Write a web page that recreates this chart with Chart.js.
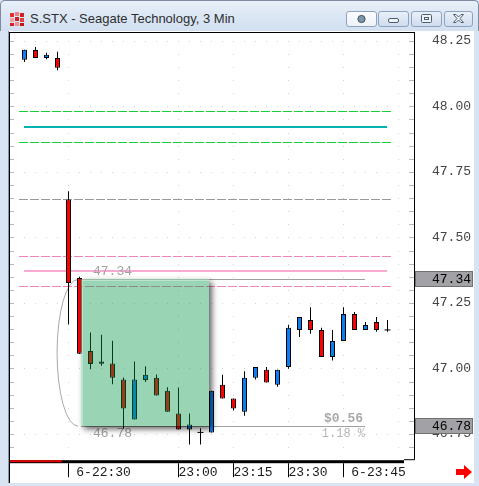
<!DOCTYPE html>
<html>
<head>
<meta charset="utf-8">
<script src="https://cdn.jsdelivr.net/npm/chart.js@4/dist/chart.umd.min.js"></script>
<style>
html,body{margin:0;padding:0;}
body{width:479px;height:486px;position:relative;overflow:hidden;background:#d8e4f3;font-family:"Liberation Sans",Arial,sans-serif;}
#titlebar{position:absolute;left:0;top:0;width:479px;height:31px;box-sizing:border-box;border:1px solid #7d8ba0;border-bottom:none;border-radius:5px 5px 0 0;background:linear-gradient(#e8eff8,#d9e5f3 60%,#d3e0f1);}
#title{position:absolute;left:29px;top:10px;font-size:13px;line-height:15px;color:#2e2e2e;white-space:nowrap;}
#icon{position:absolute;left:8px;top:10px;}
.btn{position:absolute;top:10px;height:16px;box-sizing:border-box;border:1px solid #8fa3bf;border-radius:3px;background:linear-gradient(#e9f0f9,#cfdcee);}
.btn svg{position:absolute;left:0;top:0;}
#content{position:absolute;left:8px;top:31px;width:466px;height:452px;background:#fff;border-left:1px solid #8a98ad;box-sizing:border-box;}
#c{position:absolute;left:0;top:0;}
</style>
</head>
<body>
<div id="titlebar">
  <svg id="icon" width="16" height="15" viewBox="0 0 16 15">
    <rect x="1" y="2" width="4" height="4" fill="#e03030"/><rect x="6" y="1" width="4" height="4" fill="#f08080"/><rect x="11" y="2" width="4" height="4" fill="#d02020"/>
    <rect x="1" y="7" width="4" height="4" fill="#f0a0a0"/><rect x="6" y="6" width="4" height="4" fill="#d02020"/><rect x="11" y="7" width="4" height="4" fill="#e04040"/>
    <rect x="1" y="12" width="4" height="3" fill="#d02020"/><rect x="6" y="11" width="4" height="4" fill="#f09090"/><rect x="11" y="12" width="4" height="3" fill="#c01818"/>
  </svg>
  <span id="title">S.STX - Seagate Technology, 3 Min</span>
  <div class="btn" style="left:345px;width:31px;background:linear-gradient(#fbfcfe,#eef2f7);"><svg width="29" height="14"><circle cx="14.5" cy="7" r="3.6" fill="#7f97ad" stroke="#3e4f60" stroke-width="1"/></svg></div>
  <div class="btn" style="left:377px;width:31px;"><svg width="29" height="14"><rect x="9.5" y="6.5" width="10" height="4" rx="1.5" fill="#eef3f9" stroke="#4f5d6e"/></svg></div>
  <div class="btn" style="left:410px;width:31px;"><svg width="29" height="14"><rect x="9.5" y="2.5" width="10" height="8" rx="1" fill="#eef3f9" stroke="#4f5d6e"/><rect x="12.5" y="5.5" width="4" height="2" fill="none" stroke="#4f5d6e"/></svg></div>
  <div class="btn" style="left:443px;width:29px;"><svg width="27" height="14"><path d="M8.5 2.5 L11 2.5 L13.5 5 L16 2.5 L18.5 2.5 L15 6.5 L18.5 10.5 L16 10.5 L13.5 8 L11 10.5 L8.5 10.5 L12 6.5 Z" fill="#f3f6fa" stroke="#4f5d6e"/></svg></div>
</div>
<div id="content"></div>
<canvas id="c" width="479" height="486"></canvas>
<script>
// ---- data ----
const candleTimes = ['22:18','22:21','22:24','22:27','22:30','22:33','22:36','22:39','22:42','22:45',
  '22:48','22:51','22:54','22:57','23:00','23:03','23:06','23:09','23:12','23:15',
  '23:18','23:21','23:24','23:27','23:30','23:33','23:36','23:39','23:42','23:45',
  '23:48','23:51','23:54','23:57'];
const opens  = [48.178,48.215,48.185,48.185,47.645,47.345,47.067,47.027,47.019,46.958,
  46.805,46.956,46.965,46.915,46.828,46.767,46.756,46.756,46.938,46.885,
  46.835,46.965,46.995,46.938,47.006,47.147,47.185,47.147,47.044,47.105,
  47.208,47.147,47.177,47.147];
const highs  = [48.216,48.227,48.205,48.208,47.676,47.350,47.137,47.129,47.106,46.966,
  47.027,47.008,46.977,46.928,46.927,46.828,46.772,46.915,46.976,46.885,
  46.989,47.006,47.006,46.995,47.167,47.196,47.234,47.155,47.147,47.234,
  47.215,47.177,47.196,47.185];
const lows   = [48.169,48.185,48.180,48.138,47.168,47.055,46.997,47.010,46.940,46.770,
  46.805,46.948,46.897,46.835,46.767,46.710,46.710,46.756,46.885,46.840,
  46.820,46.958,46.946,46.930,46.999,47.120,47.132,47.044,47.030,47.105,
  47.147,47.147,47.140,47.140];
const closes = [48.216,48.185,48.197,48.147,47.326,47.056,47.017,47.018,46.965,46.847,
  46.958,46.976,46.897,46.835,46.767,46.786,46.756,46.915,46.885,46.847,
  46.965,47.006,46.946,46.995,47.155,47.196,47.147,47.044,47.105,47.208,
  47.147,47.166,47.147,47.147];

const yTickVals   = [46.75, 47.00, 47.25, 47.50, 47.75, 48.00, 48.25];
const xTickIdx    = [4, 14, 19, 24, 29];
const xTickLabels = [' 6-22:30', '23:00', '23:15', '23:30', ' 6-23:45'];
const xGridIdx    = [4, 14, 19, 24, 29, 34];

const dashedLevels = [47.982, 47.865, 47.646, 47.429, 47.314];
const dashedColors = ['#16d03a', '#16d03a', '#9a9a9a', '#f184b6', '#f184b6'];
const solidLevels  = [47.923, 47.371];
const solidColors  = ['#00b2b4', '#f9aad3'];

const rangeHigh = 47.34, rangeLow = 46.78;
const rangeHighText = '47.34', rangeLowText = '46.78';
const rangeChangeText = '$0.56', rangePctText = '1.18 %';
const axisMarks = [47.34, 46.78];
const rangeBoxFromIdx = 5.14, rangeBoxToIdx = 16.8, rangeLineToIdx = 30.95;
const preSessionEndIdx = 3.4, sessionEndIdx = 34.5;

// ---- build datasets ----
const idx = opens.map((_, i) => i);
const bodyIdx = idx.filter(i => opens[i] !== closes[i]);
const dojiIdx = idx.filter(i => opens[i] === closes[i]);
const UP = '#0a7ff5', DOWN = '#ff0000';

const MONO = '"Liberation Mono", "DejaVu Sans Mono", monospace';

const minorVals = [];
for (let k = 0; k <= 40; k++) { const v = +(46.65 + k * 0.05).toFixed(2); if (v > 46.651 && v < 48.28) minorVals.push(v); }

const overlay = {
  id: 'overlay',
  beforeDatasetsDraw(chart) {
    const {ctx, chartArea: a, scales: {x, y}} = chart;
    const px = v => x.getPixelForValue(v), py = v => y.getPixelForValue(v);
    ctx.save();
    // dotted grid
    ctx.fillStyle = '#d2d2d2';
    for (const v of yTickVals) {
      const yy = Math.round(py(v));
      for (let k = -1; k <= 36; k++) { const xx = Math.floor(px(k)); if (xx > a.left + 5 && xx < a.right - 6) ctx.fillRect(xx, yy, 1, 1); }
    }
    for (const g of xGridIdx) {
      const xx = Math.floor(px(g));
      for (const v of minorVals) ctx.fillRect(xx, Math.round(py(v)), 1, 1);
    }
    // minor ticks
    ctx.fillStyle = '#b8b8b8';
    for (const v of minorVals) { const yy = Math.round(py(v)); ctx.fillRect(a.left, yy, 4, 1); ctx.fillRect(a.right - 5, yy, 5, 1); }
    // dashed levels
    ctx.lineWidth = 1; ctx.setLineDash([9, 2]);
    dashedLevels.forEach((v, i) => {
      const yy = Math.round(py(v)) + 0.5;
      ctx.strokeStyle = dashedColors[i];
      ctx.beginPath(); ctx.moveTo(Math.round(px(-0.5)), yy); ctx.lineTo(Math.round(px(33.5)), yy); ctx.stroke();
    });
    ctx.setLineDash([]);
    // solid levels
    solidLevels.forEach((v, i) => {
      const yy = Math.round(py(v));
      ctx.fillStyle = solidColors[i];
      ctx.fillRect(Math.floor(px(0)), yy - 1, Math.floor(px(33)) - Math.floor(px(0)), 2);
    });
    // range lines
    ctx.fillStyle = '#a0a0a0';
    const rx0 = Math.round(px(rangeBoxFromIdx)), rx1 = Math.round(px(rangeLineToIdx));
    const yH = Math.round(py(rangeHigh)), yL = Math.round(py(rangeLow));
    ctx.fillRect(rx0, yH, rx1 - rx0, 1);
    ctx.fillRect(rx0, yL, rx1 - rx0, 1);
    // range curve
    const cx = px(4.86), cy = (py(rangeHigh) + py(rangeLow)) / 2;
    ctx.strokeStyle = '#a8a8a8'; ctx.lineWidth = 1;
    ctx.beginPath(); ctx.ellipse(cx, cy, px(6.76) - px(4.86), (py(rangeLow) - py(rangeHigh)) / 2, 0, Math.PI / 2, Math.PI * 1.5); ctx.stroke();
    // texts
    ctx.font = '13px ' + MONO; ctx.fillStyle = '#a3a3a3'; ctx.textAlign = 'left'; ctx.textBaseline = 'alphabetic';
    ctx.fillText(rangeHighText, Math.round(px(6.2)), yH - 4);
    ctx.fillText(rangeLowText, Math.round(px(6.2)), yL + 11);
    ctx.textAlign = 'right';
    ctx.font = 'bold 13px ' + MONO; ctx.fillStyle = '#a9a9a9';
    ctx.fillText(rangeChangeText, rx1 - 2, yL - 4);
    ctx.font = '12px ' + MONO; ctx.fillStyle = '#b5b5b5';
    ctx.fillText(rangePctText, rx1, yL + 11);
    ctx.restore();
  },
  afterDatasetsDraw(chart) {
    const {ctx, chartArea: a, scales: {x, y}} = chart;
    const bx0 = Math.round(x.getPixelForValue(rangeBoxFromIdx)), bx1 = Math.round(x.getPixelForValue(rangeBoxToIdx));
    const by0 = Math.round(y.getPixelForValue(rangeHigh)), by1 = Math.round(y.getPixelForValue(rangeLow));
    ctx.save();
    // shadow outside the box only
    ctx.beginPath(); ctx.rect(a.left, a.top, a.right - a.left, a.bottom - a.top); ctx.rect(bx0, by0, bx1 - bx0, by1 - by0); ctx.clip('evenodd');
    ctx.shadowColor = 'rgba(0,0,0,0.62)'; ctx.shadowBlur = 6; ctx.shadowOffsetX = 2000 + 3; ctx.shadowOffsetY = 3;
    ctx.fillStyle = '#000'; ctx.fillRect(bx0 - 2000, by0, bx1 - bx0, by1 - by0);
    ctx.restore();
    ctx.save();
    ctx.fillStyle = 'rgba(0,150,68,0.4)';
    ctx.fillRect(bx0, by0, bx1 - bx0, by1 - by0);
    ctx.fillStyle = 'rgba(255,255,255,0.35)';
    ctx.fillRect(bx0, by0, bx1 - bx0, 2); ctx.fillRect(bx0, by0 + 2, 2, by1 - by0 - 2);
    ctx.restore();
  },
  afterDraw(chart) {
    const {ctx, chartArea: a, scales: {x, y}} = chart;
    ctx.save();
    ctx.fillStyle = '#000';
    ctx.fillRect(9, a.top - 1, a.right - 8, 1);
    ctx.fillRect(9, a.top - 1, 1, 483 - a.top + 1);
    ctx.fillRect(a.right, a.top - 1, 1, a.bottom - a.top);
    const barEnd = Math.round(x.getPixelForValue(sessionEndIdx));
    ctx.fillRect(a.left, a.bottom, barEnd - a.left, 3);
    ctx.fillRect(barEnd, a.bottom - 1, a.right - barEnd + 1, 1);
    ctx.fillStyle = '#e40000';
    ctx.fillRect(a.left, a.bottom, Math.round(x.getPixelForValue(preSessionEndIdx)) - a.left, 2);
    // separators
    ctx.fillStyle = '#000';
    for (const t of xTickIdx) ctx.fillRect(Math.floor(x.getPixelForValue(t)), a.bottom + 3, 1, 14);
    // axis value marks
    for (const v of axisMarks) {
      const yy = Math.round(y.getPixelForValue(v));
      ctx.fillStyle = '#a2a2a6'; ctx.fillRect(a.right + 1, yy - 8, 58, 16);
      ctx.strokeStyle = '#707070'; ctx.lineWidth = 1; ctx.strokeRect(a.right + 1.5, yy - 7.5, 57, 15);
      ctx.fillStyle = '#000'; ctx.font = '13px ' + MONO; ctx.textAlign = 'right'; ctx.textBaseline = 'middle';
      ctx.fillText(v.toFixed(2), a.right + 57, yy + 1);
    }
    // red arrow
    ctx.fillStyle = '#ff0000';
    ctx.beginPath();
    ctx.moveTo(456, 469); ctx.lineTo(464, 469); ctx.lineTo(464, 465); ctx.lineTo(472, 472); ctx.lineTo(464, 479); ctx.lineTo(464, 475); ctx.lineTo(456, 475); ctx.closePath();
    ctx.fill();
    ctx.restore();
  }
};

new Chart(document.getElementById('c'), {
  type: 'bar',
  data: {
    datasets: [
      { label: 'wick', data: idx.map(i => ({x: i, y: [lows[i], highs[i]]})), backgroundColor: '#000', borderWidth: 0,
        barThickness: 1, grouped: false, inflateAmount: 0, order: 3 },
      { label: 'body', data: bodyIdx.map(i => ({x: i, y: [opens[i], closes[i]]})),
        backgroundColor: bodyIdx.map(i => closes[i] > opens[i] ? UP : DOWN), borderColor: '#000', borderWidth: 1,
        borderSkipped: false, barThickness: 5, grouped: false, inflateAmount: 0, order: 2 },
      { type: 'scatter', label: 'doji', data: dojiIdx.map(i => ({x: i, y: closes[i]})), pointStyle: 'line',
        pointRadius: 3, borderColor: '#000', borderWidth: 1, order: 1 }
    ]
  },
  options: {
    responsive: false, animation: false, devicePixelRatio: 1,
    layout: { padding: { left: 10, right: 5, top: 33, bottom: 3 } },
    plugins: { legend: { display: false }, tooltip: { enabled: false } },
    scales: {
      x: { type: 'linear', position: 'bottom', min: -1.318, max: 35.409, offset: false,
        grid: { display: false, drawTicks: false }, border: { display: false },
        afterBuildTicks: s => { s.ticks = xTickIdx.map(v => ({value: v})); },
        afterFit: s => { s.height = 21; },
        ticks: { autoSkip: false, maxRotation: 0, minRotation: 0, align: 'start', padding: 5, color: '#1a1a1a',
          font: { family: MONO, size: 13 }, callback: (v, i) => xTickLabels[i] } },
      y: { type: 'linear', position: 'right', min: 46.65, max: 48.28, beginAtZero: false,
        grid: { display: false, drawTicks: false }, border: { display: false },
        afterBuildTicks: s => { s.ticks = yTickVals.map(v => ({value: v})); },
        afterFit: s => { s.width = 60; },
        ticks: { autoSkip: false, padding: 18, color: '#444', font: { family: MONO, size: 13 },
          callback: v => Number(v).toFixed(2) } }
    }
  },
  plugins: [overlay]
});
</script>
</body>
</html>
